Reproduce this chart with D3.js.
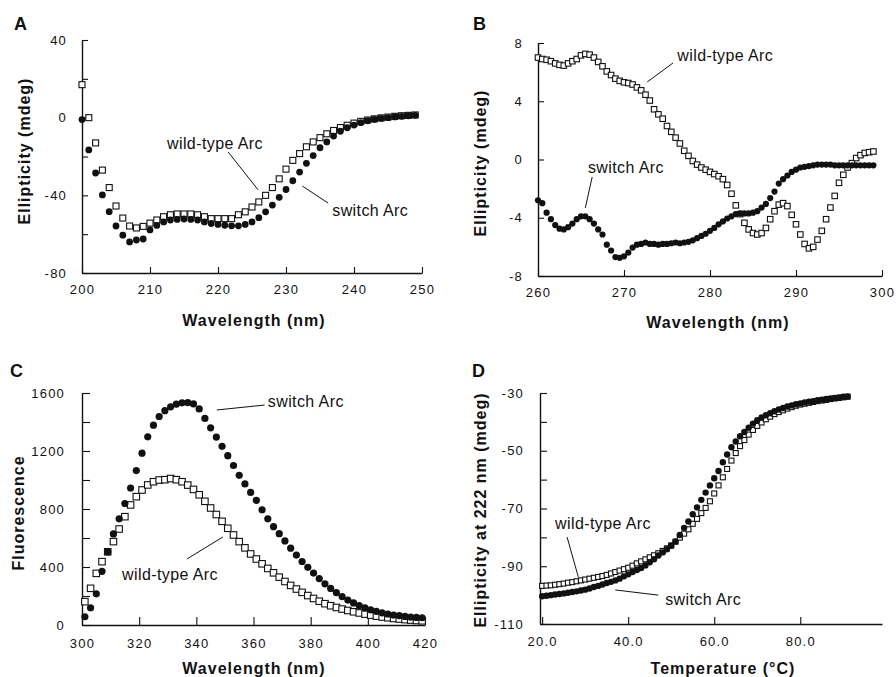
<!DOCTYPE html>
<html><head><meta charset="utf-8">
<script src="https://cdn.jsdelivr.net/npm/d3@7"></script>
<style>body{margin:0;background:#fff}</style>
</head><body><svg id="c" width="896" height="677"></svg>
<script>
// ---------- Panel A: far-UV CD (1 nm steps, 200-249 nm) ----------
const A_start = 200, A_step = 1;
const A_wild = [17,0,-13,-27,-36,-45.5,-51.7,-55.8,-56.8,-56,-54.3,-52.7,-51,-50,-49.6,-49.6,-49.6,-50,-51,-52,-52,-52,-52,-50,-48.5,-46,-43.4,-40,-36,-31.5,-26.5,-22,-18.5,-15,-12.5,-10.3,-8.3,-6.6,-5.1,-3.9,-2.8,-1.9,-1.2,-0.6,-0.1,0.3,0.7,1.0,1.2,1.4];
const A_switch = [-1,-16.6,-28.5,-39.8,-48.4,-55.8,-60.5,-64,-63,-62.5,-57.8,-55.5,-53.7,-52.7,-52.4,-52.2,-52.4,-52.7,-53.7,-54.5,-55,-55.4,-55.7,-55.7,-55,-53.7,-51.5,-48.5,-45,-41,-37,-32.5,-28,-23.5,-19.5,-15.5,-12.5,-9.5,-7,-5.2,-3.8,-2.6,-1.6,-0.9,-0.4,0,0.4,0.7,1.0,1.2];
const A_xticks = [200,210,220,230,240,250];
const A_yticks = [-80,-60,-40,-20,0,20,40];
const A_ylabels = [-80,-40,0,40];

// ---------- Panel B: near-UV CD (0.5 nm steps, 260-299 nm) ----------
const B_start = 260, B_step = 0.5;
const B_wild = [7.0,6.9,6.85,6.75,6.6,6.5,6.45,6.6,6.75,6.9,7.15,7.25,7.2,7.0,6.7,6.4,6.05,5.8,5.55,5.4,5.3,5.25,5.15,4.95,4.75,4.45,4.05,3.45,3.1,2.8,2.3,1.9,1.5,1.1,0.6,0.25,-0.1,-0.35,-0.55,-0.7,-0.85,-1.0,-1.15,-1.35,-1.75,-2.35,-3.15,-3.75,-4.35,-4.8,-5.05,-5.15,-5.05,-4.7,-4.1,-3.55,-3.1,-3.0,-3.2,-3.8,-4.45,-5.15,-5.8,-6.1,-6.0,-5.5,-4.9,-4.1,-3.3,-2.5,-1.6,-1.05,-0.55,-0.25,0.1,0.3,0.45,0.5,0.55];
const B_switch = [-2.8,-3.0,-3.65,-4.1,-4.5,-4.75,-4.8,-4.65,-4.4,-4.1,-3.9,-3.9,-4.1,-4.4,-4.8,-5.15,-5.85,-6.25,-6.7,-6.75,-6.65,-6.4,-6.05,-5.85,-5.8,-5.7,-5.8,-5.8,-5.85,-5.8,-5.8,-5.75,-5.7,-5.75,-5.7,-5.65,-5.55,-5.4,-5.25,-5.1,-4.9,-4.7,-4.45,-4.25,-4.05,-3.9,-3.75,-3.7,-3.7,-3.7,-3.65,-3.55,-3.3,-3.05,-2.65,-2.2,-1.65,-1.35,-1.1,-0.85,-0.7,-0.55,-0.5,-0.45,-0.4,-0.35,-0.35,-0.35,-0.35,-0.4,-0.4,-0.4,-0.4,-0.4,-0.4,-0.4,-0.4,-0.4,-0.4];
const B_xticks = [260,270,280,290,300];
const B_yticks = [-8,-4,0,4,8];

// ---------- Panel C: fluorescence (2 nm steps, 301-419 nm) ----------
const C_start = 301, C_step = 2;
const C_wild = [161,253,356,437,505,575,662,747,828,885,931,966,988,1000,1002,1010,1002,988,965,935,898,853,807,762,715,667,621,575,532,490,455,422,390,360,330,300,273,248,225,203,183,164,147,133,121,110,100,91,83,75,68,61,55,50,45,41,37,34,31,29];
const C_switch = [57,119,215,370,505,628,732,838,945,1065,1185,1298,1378,1438,1478,1505,1523,1532,1534,1525,1490,1425,1360,1296,1232,1168,1100,1032,973,914,860,795,732,678,630,580,530,482,438,398,358,320,284,252,223,196,172,152,134,118,105,94,84,76,69,64,59,55,52,50];
const C_xticks = [300,320,340,360,380,400,420];
const C_yticks = [0,200,400,600,800,1000,1200,1400,1600];
const C_ylabels = [0,400,800,1200,1600];

// ---------- Panel D: thermal melt (1 degC steps, 20-91 degC) ----------
const D_start = 20, D_step = 1;
const D_wild = [-96.8,-96.7,-96.6,-96.4,-96.2,-96.0,-95.7,-95.5,-95.2,-94.9,-94.6,-94.3,-94.0,-93.7,-93.4,-93.0,-92.5,-92.0,-91.5,-91.0,-90.5,-89.8,-89.0,-88.3,-87.6,-86.9,-86.2,-85.5,-84.7,-83.8,-82.8,-81.5,-80.1,-78.7,-77.2,-75.3,-73.6,-71.6,-69.8,-67.5,-64.8,-62,-59.2,-56.3,-53.4,-50.8,-48.4,-46.3,-44.4,-42.8,-41.4,-40.2,-39.1,-38.2,-37.3,-36.6,-36,-35.4,-34.9,-34.4,-34,-33.7,-33.4,-33.1,-32.8,-32.6,-32.4,-32.1,-31.9,-31.7,-31.5,-31.3];
const D_switch = [-100.4,-100.2,-100.0,-99.8,-99.6,-99.4,-99.2,-98.9,-98.7,-98.4,-98.1,-97.7,-97.2,-96.8,-96.3,-95.8,-95.4,-94.9,-94.3,-93.5,-92.8,-92.0,-91.3,-90.6,-89.7,-88.6,-87.6,-86.3,-85.2,-84.1,-82.9,-81.4,-79.2,-76.7,-74.5,-72,-69.6,-67,-64.5,-62,-59.5,-57,-54,-51.3,-48.8,-46.8,-45,-43.5,-42,-40.6,-39.4,-38.5,-37.7,-37,-36.3,-35.7,-35.2,-34.7,-34.3,-33.9,-33.6,-33.3,-33.0,-32.8,-32.5,-32.3,-32.1,-31.9,-31.7,-31.5,-31.3,-31.2];
const D_xticks = [20,40,60,80];
const D_yticks = [-110,-100,-90,-80,-70,-60,-50,-40,-30];
const D_ylabels = [-110,-90,-70,-50,-30];

const FONT = "'Liberation Sans', Arial, Helvetica, sans-serif";
const svg = d3.select("#c");
svg.append("rect").attr("width",896).attr("height",677).attr("fill","#fff");

function series(start, step, vals){ return vals.map((v,i)=>({x:start+i*step, y:v})); }
const hy = d => String(d); // hyphen-minus like the figure

function panel(cfg){
  const x = d3.scaleLinear().domain(cfg.xdom).range([cfg.px0, cfg.px1]);
  const y = d3.scaleLinear().domain(cfg.ydom).range([cfg.py1, cfg.py0]);
  const g = svg.append("g");

  const xa = d3.axisBottom(x).tickValues(cfg.xticks).tickSize(-cfg.tick).tickSizeOuter(0)
     .tickPadding(cfg.tick + 6).tickFormat(cfg.xfmt || hy);
  const ya = d3.axisLeft(y).tickValues(cfg.yticks).tickSize(-cfg.tick).tickSizeOuter(0)
     .tickPadding(cfg.tick + 9)
     .tickFormat(d => (cfg.ylabels ? cfg.ylabels.includes(d) : true) ? hy(d) : "");
  const gx = g.append("g").attr("transform",`translate(0,${cfg.py1})`).call(xa);
  const gy = g.append("g").attr("transform",`translate(${cfg.px0},0)`).call(ya);
  [gx,gy].forEach(a=>{
    a.attr("font-family",FONT).attr("font-size",13);
    a.selectAll("path.domain").attr("stroke","#111").attr("stroke-width",1.4);
    a.selectAll(".tick line").attr("stroke","#111").attr("stroke-width",1.1);
    a.selectAll(".tick text").attr("fill","#111").style("letter-spacing","1.2px");
  });
  gy.selectAll(".tick text").attr("dx", 0);

  // markers: squares first, then filled circles on top
  const sq = cfg.sq;
  g.append("g").selectAll("rect").data(cfg.wild).join("rect")
    .attr("x", d=>x(d.x)-sq/2).attr("y", d=>y(d.y)-sq/2)
    .attr("width",sq).attr("height",sq)
    .attr("fill","#fff").attr("stroke","#111").attr("stroke-width",1.1);
  g.append("g").selectAll("circle").data(cfg.sw).join("circle")
    .attr("cx", d=>x(d.x)).attr("cy", d=>y(d.y)).attr("r",cfg.r).attr("fill","#111");

  // annotations (data coordinates)
  cfg.notes.forEach(n=>{
    g.append("line").attr("x1",x(n.l[0])).attr("y1",y(n.l[1]))
      .attr("x2",x(n.l[2])).attr("y2",y(n.l[3])).attr("stroke","#111").attr("stroke-width",1);
    g.append("text").attr("x",x(n.t[0])).attr("y",y(n.t[1])).attr("dy","0.36em")
      .attr("font-family",FONT).attr("font-size",16).style("letter-spacing","0.4px")
      .attr("fill","#111").text(n.text);
  });

  // titles
  g.append("text").attr("x",cfg.xt[0]).attr("y",cfg.xt[1]).attr("text-anchor","middle")
    .attr("dy","0.36em").attr("font-family",FONT).attr("font-weight","bold").attr("font-size",16)
    .style("letter-spacing","1px").attr("fill","#111").text(cfg.xtitle);
  g.append("text").attr("transform",`translate(${cfg.yt[0]},${cfg.yt[1]}) rotate(-90)`)
    .attr("text-anchor","middle").attr("dy","0.36em").attr("font-family",FONT)
    .attr("font-weight","bold").attr("font-size",16).style("letter-spacing","1px")
    .attr("fill","#111").text(cfg.ytitle);
  g.append("text").attr("x",cfg.lab[0]).attr("y",cfg.lab[1]).attr("font-family",FONT)
    .attr("font-weight","bold").attr("font-size",18).attr("fill","#111").text(cfg.letter);
}

panel({px0:82,px1:422,py0:40,py1:273,xdom:[200,250],ydom:[-80,40],
  xticks:A_xticks,yticks:A_yticks,ylabels:A_ylabels,tick:6,
  wild:series(A_start,A_step,A_wild),sw:series(A_start,A_step,A_switch),sq:6,r:3.4,
  notes:[{text:"wild-type Arc",t:[212.5,-13],l:[221.5,-17.7,225.9,-37.2]},
         {text:"switch Arc",t:[236.8,-47.5],l:[232.4,-35.2,236.2,-44]}],
  xtitle:"Wavelength (nm)",xt:[254,320],ytitle:"Ellipticity (mdeg)",yt:[24,151],
  letter:"A",lab:[14,30]});

panel({px0:538,px1:882,py0:43,py1:276,xdom:[260,300],ydom:[-8,8],
  xticks:B_xticks,yticks:B_yticks,tick:6,
  wild:series(B_start,B_step,B_wild),sw:series(B_start,B_step,B_switch),sq:5.5,r:3.1,
  notes:[{text:"wild-type Arc",t:[276.2,7.18],l:[275.7,6.63,272.7,5.32]},
         {text:"switch Arc",t:[265.8,-0.52],l:[266.3,-1.2,265.5,-3.33]}],
  xtitle:"Wavelength (nm)",xt:[718,322],ytitle:"Ellipticity (mdeg)",yt:[480,163],
  letter:"B",lab:[473,30]});

panel({px0:82,px1:425,py0:393,py1:625,xdom:[300,420],ydom:[0,1600],
  xticks:C_xticks,yticks:C_yticks,ylabels:C_ylabels,tick:8,
  wild:series(C_start,C_step,C_wild),sw:series(C_start,C_step,C_switch),sq:6.5,r:3.6,
  notes:[{text:"switch Arc",t:[365,1545],l:[347.2,1483,363.9,1517]},
         {text:"wild-type Arc",t:[314,352],l:[336.7,455,349.3,607]}],
  xtitle:"Wavelength (nm)",xt:[254,668],ytitle:"Fluorescence",yt:[18,513],
  letter:"C",lab:[10,377]});

panel({px0:540,px1:882,py0:393,py1:624,xdom:[19.5,99],ydom:[-110,-30],
  xticks:D_xticks,yticks:D_yticks,ylabels:D_ylabels,tick:7,xfmt:d3.format(".1f"),
  wild:series(D_start,D_step,D_wild),sw:series(D_start,D_step,D_switch),sq:5,r:3.2,
  notes:[{text:"wild-type Arc",t:[23,-75],l:[25.8,-79.9,28.4,-93.7]},
         {text:"switch Arc",t:[48.6,-101.3],l:[37,-98.2,47,-100]}],
  xtitle:"Temperature (°C)",xt:[723,668],ytitle:"Ellipticity at 222 nm (mdeg)",yt:[480,510],
  letter:"D",lab:[472,377]});
</script></body></html>
